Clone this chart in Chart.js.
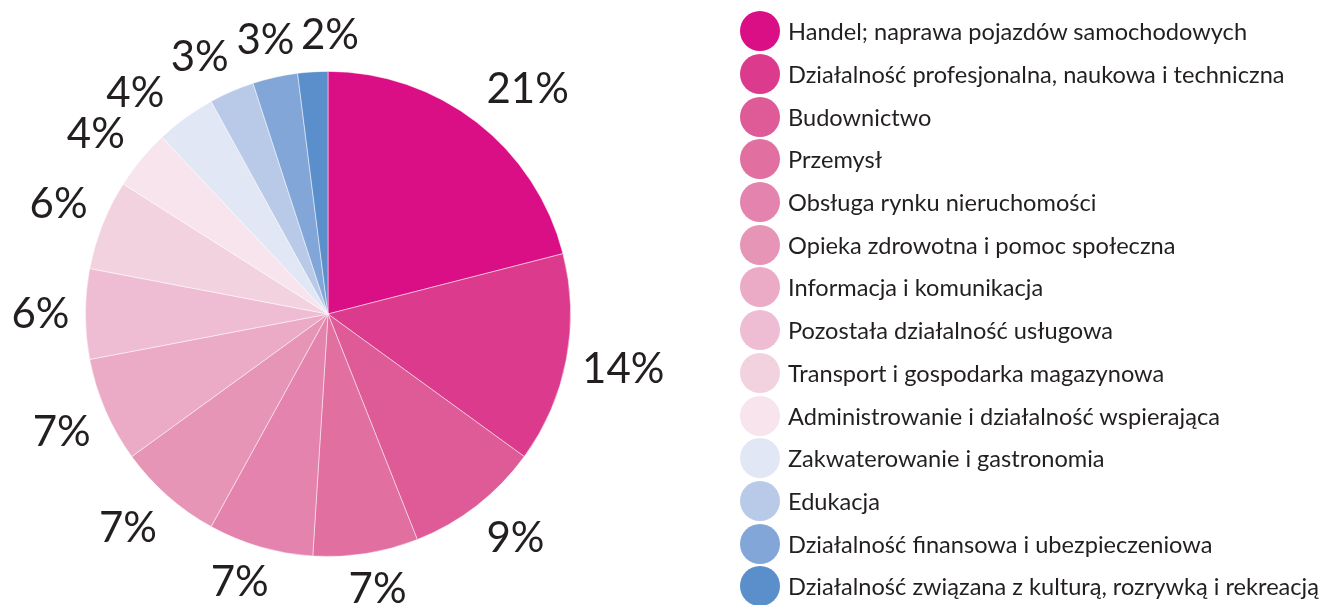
<!DOCTYPE html>
<html>
<head>
<meta charset="utf-8">
<script src="https://cdn.jsdelivr.net/npm/chart.js@4/dist/chart.umd.min.js"></script>
<style>
  html, body { margin: 0; padding: 0; background: #fff; }
  #wrap { position: relative; width: 1334px; height: 605px; overflow: hidden; }
  #legend { position: absolute; left: 740px; top: 10px; margin: 0; padding: 0; list-style: none;
            font-family: Lato, sans-serif; font-size: 23.6px; color: #231f20; }
  #legend li { height: 42.7px; display: flex; align-items: center; white-space: nowrap; }
  #legend span.dot { width: 40px; height: 40px; border-radius: 50%; margin-right: 8px; flex: none; }
</style>
</head>
<body>
<div id="wrap">
  <canvas id="pie" width="1334" height="605"></canvas>
  <ul id="legend"></ul>
</div>
<script>
const categories = [
  'Handel; naprawa pojazdów samochodowych',
  'Działalność profesjonalna, naukowa i techniczna',
  'Budownictwo',
  'Przemysł',
  'Obsługa rynku nieruchomości',
  'Opieka zdrowotna i pomoc społeczna',
  'Informacja i komunikacja',
  'Pozostała działalność usługowa',
  'Transport i gospodarka magazynowa',
  'Administrowanie i działalność wspierająca',
  'Zakwaterowanie i gastronomia',
  'Edukacja',
  'Działalność finansowa i ubezpieczeniowa',
  'Działalność związana z kulturą, rozrywką i rekreacją'
];
const shares = [21, 14, 9, 7, 7, 7, 7, 6, 6, 4, 4, 3, 3, 2];
const colors = [
  '#da0e85', '#dc3a8c', '#df5b98', '#e16fa0', '#e483ad', '#e795b6', '#ebaac6',
  '#efbdd3', '#f3d2e0', '#f7e4ed', '#e1e7f5', '#b9cae9', '#83a6d8', '#5b8fcb'
];

// legend on the right
const legendEl = document.getElementById('legend');
categories.forEach((name, i) => {
  const li = document.createElement('li');
  const dot = document.createElement('span');
  dot.className = 'dot';
  dot.style.background = colors[i];
  li.appendChild(dot);
  li.appendChild(document.createTextNode(name));
  legendEl.appendChild(li);
});

// percentage labels outside each slice (box anchored at the ray, kept from overlapping)
const outsideLabels = {
  id: 'outsideLabels',
  afterDatasetsDraw(chart) {
    const ctx = chart.ctx;
    const meta = chart.getDatasetMeta(0);
    const gap = 16, hh = 20, pad = 6;
    const clamp = v => Math.max(-1, Math.min(1, v * 2));
    ctx.save();
    ctx.font = '42px Lato, sans-serif';
    ctx.fillStyle = '#231f20';
    ctx.textAlign = 'center';
    ctx.textBaseline = 'middle';

    const items = meta.data.map((arc, i) => {
      const p = arc.getProps(['x', 'y', 'startAngle', 'endAngle', 'outerRadius'], true);
      const text = shares[i] + '%';
      return { p, text, hw: ctx.measureText(text).width / 2, a: (p.startAngle + p.endAngle) / 2 };
    });
    const place = it => {
      const c = Math.cos(it.a), s = Math.sin(it.a);
      const r = it.p.outerRadius + gap;
      it.x = it.p.x + c * r + clamp(c) * it.hw;
      it.y = it.p.y + s * r + clamp(s) * hh;
    };
    const hits = (a, b) => Math.abs(a.x - b.x) < a.hw + b.hw + pad && Math.abs(a.y - b.y) < 2 * hh;

    items.forEach(place);
    for (let k = 0; k < 400; k++) {
      let moved = false;
      for (let i = 0; i < items.length; i++) {
        const a = items[i], b = items[(i + 1) % items.length];
        if (hits(a, b)) {
          a.a -= 0.003; b.a += 0.003;
          place(a); place(b);
          moved = true;
        }
      }
      if (!moved) break;
    }
    items.forEach(it => ctx.fillText(it.text, it.x, it.y));
    ctx.restore();
  }
};

new Chart(document.getElementById('pie'), {
  type: 'pie',
  data: {
    labels: categories,
    datasets: [{
      data: shares,
      backgroundColor: colors,
      borderColor: 'rgba(255,255,255,0.6)',
      borderWidth: 0.8
    }]
  },
  options: {
    responsive: false,
    animation: false,
    layout: { padding: { left: 85, right: 763, top: 71, bottom: 48 } },
    plugins: { legend: { display: false }, tooltip: { enabled: false } }
  },
  plugins: [outsideLabels]
});
</script>
</body>
</html>
